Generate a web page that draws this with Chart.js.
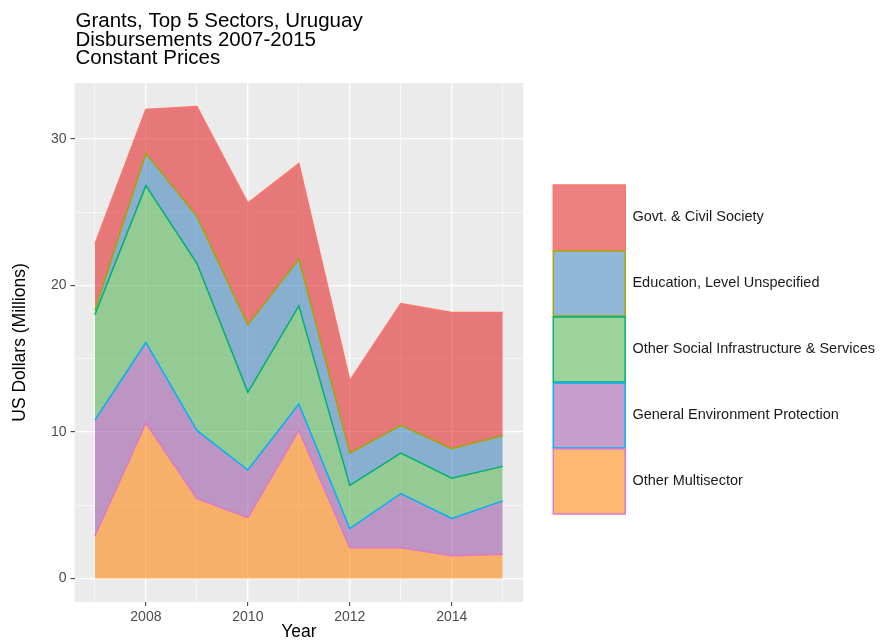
<!DOCTYPE html>
<html>
<head>
<meta charset="utf-8">
<script src="https://cdn.jsdelivr.net/npm/chart.js@4"></script>
<style>
html,body{margin:0;padding:0;background:#fff;}
#wrap{width:887px;height:643px;}
</style>
</head>
<body>
<div id="wrap"><canvas id="c" width="887" height="643"></canvas></div>
<script>
// ---- data (US$ millions, constant prices) ----
const years = [2007, 2008, 2009, 2010, 2011, 2012, 2013, 2014, 2015];
const otherMultisector = [2.9, 10.6, 5.45, 4.15, 10.1, 2.1, 2.1, 1.55, 1.65];
const generalEnvironment = [7.9, 5.5, 4.65, 3.25, 1.8, 1.3, 3.7, 2.55, 3.65];
const otherSocial = [7.2, 10.7, 11.4, 5.3, 6.7, 2.95, 2.75, 2.75, 2.35];
const educationUnspecified = [0.3, 2.2, 3.2, 4.6, 3.2, 2.2, 1.9, 2.0, 2.1];
const govtCivilSociety = [4.5, 3.0, 7.5, 8.3, 6.5, 4.95, 8.3, 9.3, 8.4];

const seriesNames = [
  'Other Multisector',
  'General Environment Protection',
  'Other Social Infrastructure & Services',
  'Education, Level Unspecified',
  'Govt. & Civil Society'
];
const seriesValues = [otherMultisector, generalEnvironment, otherSocial, educationUnspecified, govtCivilSociety];

const xTickLabels = [2008, 2010, 2012, 2014];
const yGridValues = [0, 5, 10, 15, 20, 25, 30];
const yTickLabels = [0, 10, 20, 30];

const titleLines = ['Grants, Top 5 Sectors, Uruguay', 'Disbursements 2007-2015', 'Constant Prices'];

// ---- styles ----
const fills = ['rgba(255,127,0,0.55)', 'rgba(152,78,163,0.55)', 'rgba(77,175,74,0.55)', 'rgba(55,126,184,0.55)', 'rgba(228,26,28,0.55)'];
const lines = ['#DD78C8', '#00B0F6', '#00B070', '#A3A500', '#F8766D'];
const FONT = '"Liberation Sans", Arial, Helvetica, sans-serif';

const datasets = seriesNames.map((name, i) => ({
  label: name,
  data: years.map((yr, j) => ({x: yr, y: seriesValues[i][j]})),
  backgroundColor: fills[i],
  borderColor: lines[i],
  borderWidth: 1.5,
  pointRadius: 0,
  pointHoverRadius: 0,
  tension: 0,
  fill: i === 0 ? 'origin' : '-1'
}));

const panelPlugin = {
  id: 'panelPlugin',
  afterLayout(chart) {
    if (chart.titleBlock) chart.titleBlock.left = chart.chartArea.left + 1;
  },
  beforeDraw(chart) {
    const {ctx, chartArea: a} = chart;
    ctx.save();
    ctx.fillStyle = '#FFFFFF';
    ctx.fillRect(0, 0, chart.width, chart.height);
    ctx.fillStyle = '#EBEBEB';
    ctx.fillRect(a.left, a.top, a.right - a.left, a.bottom - a.top);
    ctx.restore();
  }
};

new Chart(document.getElementById('c'), {
  type: 'line',
  data: {datasets},
  plugins: [panelPlugin],
  options: {
    responsive: false,
    animation: false,
    devicePixelRatio: 1,
    layout: {padding: {left: 0, right: 2, top: 0, bottom: 0}},
    plugins: {
      tooltip: {enabled: false},
      title: {
        display: true,
        text: titleLines,
        align: 'start',
        color: '#000',
        font: {family: FONT, size: 20.5, weight: 'normal', lineHeight: 0.92},
        padding: {top: 11.6, bottom: 14.8}
      },
      legend: {
        display: true,
        position: 'right',
        reverse: true,
        align: 'center',
        fullSize: false,
        maxWidth: 420,
        title: {display: true, text: ' ', font: {size: 10, lineHeight: 1}, padding: 2},
        labels: {
          boxWidth: 72,
          boxHeight: 65,
          padding: 1,
          color: '#1a1a1a',
          font: {family: FONT, size: 14.5}
        }
      }
    },
    scales: {
      x: {
        type: 'linear',
        min: 2006.6,
        max: 2015.4,
        afterBuildTicks(s) { s.ticks = years.map(v => ({value: v})); },
        afterFit(s) { s.height = 41; },
        border: {display: false},
        grid: {
          color: '#FFFFFF',
          lineWidth: c => xTickLabels.includes(c.tick && c.tick.value) ? 1.3 : 0.6,
          tickColor: c => xTickLabels.includes(c.tick && c.tick.value) ? '#333333' : 'rgba(0,0,0,0)',
          tickLength: 4,
          tickWidth: 1
        },
        ticks: {
          autoSkip: false,
          maxRotation: 0,
          padding: 3,
          color: '#4D4D4D',
          font: {family: FONT, size: 14},
          callback: v => xTickLabels.includes(v) ? String(v) : ''
        },
        title: {
          display: true,
          text: 'Year',
          color: '#000',
          font: {family: FONT, size: 17.5},
          padding: {top: 0, bottom: 0}
        }
      },
      y: {
        type: 'linear',
        stacked: true,
        min: -1.6,
        max: 33.8,
        afterBuildTicks(s) { s.ticks = yGridValues.map(v => ({value: v})); },
        afterFit(s) { s.width = 74.5; },
        border: {display: false},
        grid: {
          color: '#FFFFFF',
          lineWidth: c => yTickLabels.includes(c.tick && c.tick.value) ? 1.3 : 0.6,
          tickColor: c => yTickLabels.includes(c.tick && c.tick.value) ? '#333333' : 'rgba(0,0,0,0)',
          tickLength: 4,
          tickWidth: 1
        },
        ticks: {
          autoSkip: false,
          padding: 4,
          color: '#4D4D4D',
          font: {family: FONT, size: 14},
          callback: v => yTickLabels.includes(v) ? String(v) : ''
        },
        title: {
          display: true,
          text: 'US Dollars (Millions)',
          color: '#000',
          font: {family: FONT, size: 17.5},
          padding: {top: 10, bottom: 0}
        }
      },
      gap: {
        type: 'linear',
        position: 'right',
        display: true,
        afterFit(s) { s.width = 29; },
        border: {display: false},
        grid: {display: false, drawTicks: false},
        ticks: {display: false}
      }
    }
  }
});
</script>
</body>
</html>
